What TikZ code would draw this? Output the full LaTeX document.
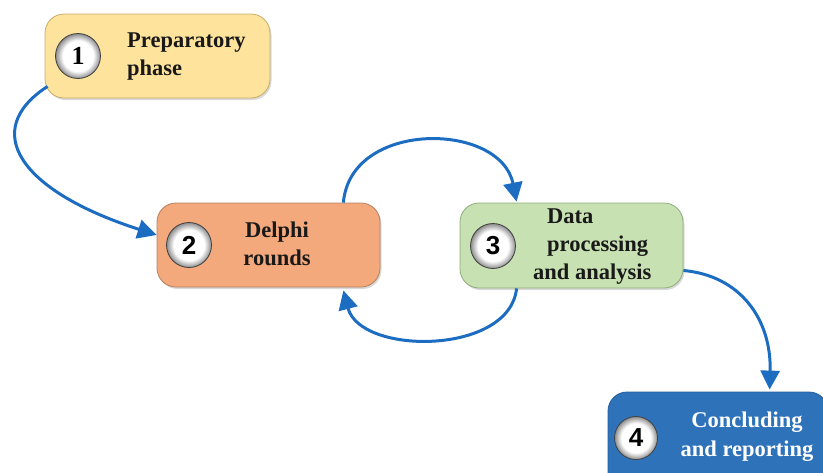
\documentclass[tikz,border=0pt]{standalone}
\usepackage{fontspec}
\setmainfont{Liberation Serif}
\setsansfont{Liberation Sans}
\usetikzlibrary{arrows.meta,shadows,calc}

\definecolor{flowblue}{HTML}{1C6DC1}
\definecolor{prepfill}{HTML}{FDE39B}
\definecolor{prepline}{HTML}{C9AC68}
\definecolor{delfill}{HTML}{F3A97B}
\definecolor{delline}{HTML}{B7805E}
\definecolor{datafill}{HTML}{C8E1B2}
\definecolor{dataline}{HTML}{8EAC7A}
\definecolor{concfill}{HTML}{2E72BA}
\definecolor{concline}{HTML}{245E9D}

% white disc with a soft grey rim
\pgfdeclareradialshading{discrim}{\pgfpoint{0bp}{0bp}}{%
  color(0bp)=(white); color(17bp)=(white); color(25bp)=(gray!90); color(50bp)=(gray!90)}

\begin{document}
\begin{tikzpicture}[x=1pt,y=-1pt,
  stage/.style={draw, rounded corners=19pt, line width=0.8pt, inner sep=0pt,
    drop shadow={opacity=0.3, shadow xshift=1.5pt, shadow yshift=-2pt}},
  numdisc/.style={circle, shading=discrim, draw=gray!50!black, line width=0.8pt,
    minimum size=45pt, inner sep=0pt, text=black,
    font=\sffamily\bfseries\fontsize{26}{26}\selectfont},
  stagetext/.style={inner sep=0pt, text=black!90,
    font=\bfseries\fontsize{22.5}{28}\selectfont},
  flow/.style={draw=flowblue, line width=3pt,
    -{Triangle[length=19pt,width=19pt]}}]

\clip (0,0) rectangle (823,472);
\useasboundingbox (0,0) rectangle (823,472);

% stage boxes
\node[stage, fill=prepfill, draw=prepline, minimum width=225pt, minimum height=84pt] (b1) at (157.5,56) {};
\node[stage, fill=delfill, draw=delline, minimum width=223pt, minimum height=84pt] (b2) at (268.5,245) {};
\node[stage, fill=datafill, draw=dataline, minimum width=223pt, minimum height=85pt] (b3) at (571.5,245.5) {};
\node[stage, fill=concfill, draw=concline, minimum width=220pt, minimum height=110pt] (b4) at (718,447) {};

% numbered discs
\node[numdisc, font=\rmfamily\bfseries\fontsize{26}{26}\selectfont] (d1) at (78,56) {1};
\node[numdisc] (d2) at (189,245) {2};
\node[numdisc] (d3) at (493,246) {3};
\node[numdisc, minimum size=43pt] (d4) at (636,438) {4};

% stage titles
\node[stagetext, anchor=west, align=left] (t1) at (127,56.4) {Preparatory\\phase};
\node[stagetext, align=center] (t2) at (277,244) {Delphi\\rounds};
\node[stagetext, anchor=west, align=left] (t3) at (533,247) {\hspace*{14pt}Data\\\hspace*{14pt}processing\\and analysis};
\node[stagetext, align=center, text=white, font=\bfseries\fontsize{22.5}{29}\selectfont] (t4) at (747,437) {Concluding\\and reporting};

% connectors
\coordinate (a1s) at ($(b1.south west)+(3,-12)$);
\coordinate (a1e) at ($(b2.west)+(0,-10)$);
\coordinate (a2s) at ($(b2.north east)+(-37,0)$);
\coordinate (a2e) at ($(b3.north west)+(57,-1)$);
\coordinate (a3s) at ($(b3.south west)+(57,0)$);
\coordinate (a3e) at ($(b2.south east)+(-37,3)$);
\coordinate (a4s) at ($(b3.east)+(0,25)$);
\coordinate (a4e) at ($(b4.north west)+(162,-2)$);

\draw[flow] (a1s) .. controls +(-68,44) and +(-137,-44) .. (a1e);
\draw[flow] (a2s) .. controls +(7,-83) and +(-16,-80) .. (a2e);
\draw[flow] (a3s) .. controls +(-7,67) and +(17,65) .. (a3e);
\draw[flow] (a4s) .. controls +(57,5) and +(2,-70) .. (a4e);
\end{tikzpicture}
\end{document}
